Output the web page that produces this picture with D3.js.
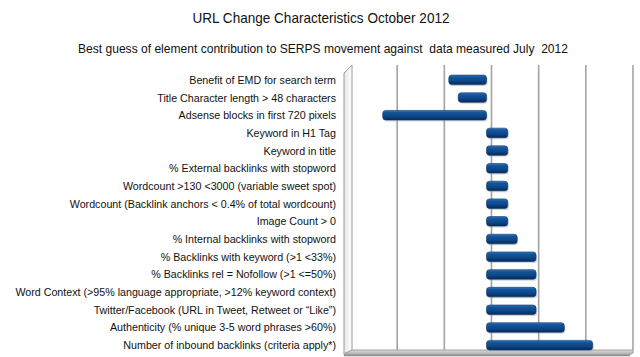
<!DOCTYPE html>
<html>
<head>
<meta charset="utf-8">
<script src="https://cdn.jsdelivr.net/npm/d3@7/dist/d3.min.js"></script>
<style>
  html, body { margin: 0; padding: 0; background: #fff; }
  svg { display: block; font-family: "Liberation Sans", Arial, sans-serif; }
  text { white-space: pre; }
</style>
</head>
<body>
<svg id="chart" width="640" height="357"></svg>
<script>
const title = "URL Change Characteristics October 2012";
const subtitle = "Best guess of element contribution to SERPS movement against  data measured July  2012";

const categories = [
  "Benefit of EMD for search term",
  "Title Character length > 48 characters",
  "Adsense blocks in first 720 pixels",
  "Keyword in H1 Tag",
  "Keyword in title",
  "% External backlinks with stopword",
  "Wordcount >130 <3000 (variable sweet spot)",
  "Wordcount (Backlink anchors < 0.4% of total wordcount)",
  "Image Count > 0",
  "% Internal backlinks with stopword",
  "% Backlinks with keyword (>1 <33%)",
  "% Backlinks rel = Nofollow (>1 <=50%)",
  "Word Context (>95% language appropriate, >12% keyword context)",
  "Twitter/Facebook (URL in Tweet, Retweet or \u201CLike\u201D)",
  "Authenticity (% unique 3-5 word phrases >60%)",
  "Number of inbound backlinks (criteria apply*)"
];
const values = [-0.8, -0.6, -2.2, 0.45, 0.45, 0.45, 0.45, 0.45, 0.45, 0.65, 1.05, 1.05, 1.05, 1.05, 1.65, 2.25];
const gridTicks = [-2, -1, 0, 1, 2, 3];

const svg = d3.select("#chart");

// depth offsets for the pseudo-3D look
const dx = 5, dy = -4;

const x = d3.scaleLinear().domain([-3, 3]).range([345, 628]);
const y = d3.scaleBand().domain(categories).range([71, 354]).paddingInner(0.46).paddingOuter(0.23);

const defs = svg.append("defs");
const grad = defs.append("linearGradient").attr("id", "barGrad")
  .attr("x1", 0).attr("y1", 0).attr("x2", 0).attr("y2", 1);
[["0%", "#3a78bd"], ["22%", "#12559c"], ["60%", "#0d4788"], ["100%", "#062a57"]]
  .forEach(([o, c]) => grad.append("stop").attr("offset", o).attr("stop-color", c));
const wallGrad = defs.append("linearGradient").attr("id", "wallGrad")
  .attr("x1", 0).attr("y1", 0).attr("x2", 1).attr("y2", 0);
[["0%", "#e6e6e6"], ["100%", "#ffffff"]]
  .forEach(([o, c]) => wallGrad.append("stop").attr("offset", o).attr("stop-color", c));
const floorGrad = defs.append("linearGradient").attr("id", "floorGrad")
  .attr("x1", 0).attr("y1", 0).attr("x2", 0).attr("y2", 1);
[["0%", "#dcdcdc"], ["100%", "#a8a8a8"]]
  .forEach(([o, c]) => floorGrad.append("stop").attr("offset", o).attr("stop-color", c));

// Titles
svg.append("text").attr("x", 321).attr("y", 23).attr("text-anchor", "middle")
  .attr("font-size", 14.5).attr("fill", "#111")
  .attr("textLength", 257).attr("lengthAdjust", "spacingAndGlyphs").text(title);
svg.append("text").attr("x", 323).attr("y", 53).attr("text-anchor", "middle")
  .attr("font-size", 13).attr("fill", "#111")
  .attr("textLength", 490).attr("lengthAdjust", "spacingAndGlyphs").text(subtitle);

const plotTop = y.range()[0], plotBottom = y.range()[1];
const plotLeft = x.range()[0], plotRight = x.range()[1];

// Back-wall gridlines
svg.append("g").selectAll("line").data(gridTicks).join("line")
  .attr("x1", d => x(d) + dx).attr("x2", d => x(d) + dx)
  .attr("y1", plotTop + dy - 2).attr("y2", plotBottom + dy)
  .attr("stroke", "#a3a3a3").attr("stroke-width", 1.6);

// Left side wall
svg.append("polygon")
  .attr("points", [
    [plotLeft - 1, plotTop + 2], [plotLeft + dx + 2, plotTop + dy - 2],
    [plotLeft + dx + 2, plotBottom + dy], [plotLeft - 1, plotBottom]
  ].map(p => p.join(",")).join(" "))
  .attr("fill", "url(#wallGrad)").attr("stroke", "#9a9a9a").attr("stroke-width", 1);

// Floor
svg.append("polygon")
  .attr("points", [
    [plotLeft - 1, plotBottom], [plotLeft + dx + 2, plotBottom + dy],
    [plotRight + dx, plotBottom + dy], [plotRight + dx, plotBottom - 1], [plotRight + 1, plotBottom + 1], [plotLeft - 1, plotBottom + 1]
  ].map(p => p.join(",")).join(" "))
  .attr("fill", "url(#floorGrad)").attr("stroke", "#a0a0a0").attr("stroke-width", 1);
svg.append("line").attr("x1", plotLeft - 1).attr("x2", plotRight + 2)
  .attr("y1", plotBottom + 1.5).attr("y2", plotBottom + 1.5)
  .attr("stroke", "#8e8e8e").attr("stroke-width", 1.5);

// Category labels
svg.append("g").selectAll("text").data(categories).join("text")
  .attr("x", 336).attr("y", d => y(d) + y.bandwidth() / 2 + 4)
  .attr("text-anchor", "end").attr("font-size", 10.7).attr("fill", "#111")
  .text(d => d);

// Bars
const bars = svg.append("g");
const data = categories.map((c, i) => ({ c, v: values[i] }));
bars.selectAll("rect.shadow").data(data).join("rect").attr("class", "shadow")
  .attr("x", d => Math.min(x(0), x(d.v)) + 1)
  .attr("y", d => y(d.c) + 1.5)
  .attr("width", d => Math.abs(x(d.v) - x(0)))
  .attr("height", y.bandwidth())
  .attr("rx", 3).attr("fill", "#9aa4b2").attr("opacity", 0.45);
bars.selectAll("rect.bar").data(data).join("rect").attr("class", "bar")
  .attr("x", d => Math.min(x(0), x(d.v)))
  .attr("y", d => y(d.c))
  .attr("width", d => Math.abs(x(d.v) - x(0)))
  .attr("height", y.bandwidth())
  .attr("rx", 3).attr("fill", "url(#barGrad)")
  .attr("stroke", "#0a3466").attr("stroke-width", 0.6);
</script>
</body>
</html>
